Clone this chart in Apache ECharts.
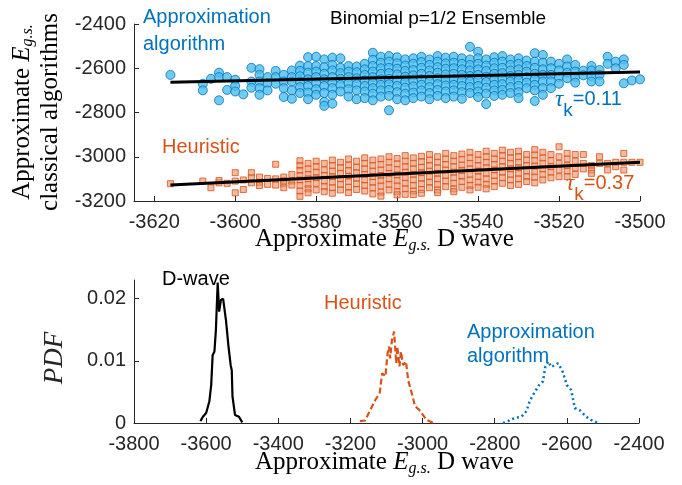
<!DOCTYPE html>
<html><head><meta charset="utf-8">
<script src="https://cdn.jsdelivr.net/npm/echarts@6/dist/echarts.min.js"></script>
<style>html,body{margin:0;padding:0;background:#fff}#c{width:682px;height:485px}</style>
</head><body><div id="c"></div>
<script>
// ---- Top panel: instance energies (D-wave x, classical y) ----
const dwaveE = [-3616,-3614,-3612,-3610,-3608,-3606,-3604,-3602,-3600,-3598,-3596,-3594,-3592,-3590,-3588,-3586,-3584,-3582,-3580,-3578,-3576,-3574,-3572,-3570,-3568,-3566,-3564,-3562,-3560,-3558,-3556,-3554,-3552,-3550,-3548,-3546,-3544,-3542,-3540,-3538,-3536,-3534,-3532,-3530,-3528,-3526,-3524,-3522,-3520,-3518,-3516,-3514,-3512,-3510,-3508,-3506,-3504,-3502,-3500];
const approxE = [
 [-2630],[],[],[],[-2670,-2700],[-2648],[-2620,-2640,-2745],[-2640,-2698],[-2652,-2680,-2705],[-2718],
 [-2598,-2660,-2688],[-2604,-2630,-2660,-2690,-2720],[-2640,-2668,-2700],[-2612,-2640,-2670],[-2630,-2660,-2690,-2730],
 [-2610,-2640,-2660,-2700,-2738],[-2588,-2612,-2636,-2660,-2685,-2712],[-2550,-2590,-2620,-2650,-2680,-2710,-2740],
 [-2548,-2590,-2615,-2640,-2668,-2695,-2720],[-2560,-2595,-2625,-2650,-2680,-2712,-2752,-2770],
 [-2552,-2585,-2610,-2640,-2665,-2690,-2720,-2760],[-2555,-2598,-2622,-2648,-2675,-2705],
 [-2590,-2615,-2640,-2668,-2695,-2728],[-2592,-2618,-2645,-2672,-2700,-2740],
 [-2580,-2605,-2630,-2655,-2680,-2705,-2735],[-2530,-2562,-2590,-2615,-2640,-2665,-2690,-2715,-2745],
 [-2548,-2575,-2600,-2625,-2650,-2675,-2700,-2728],[-2545,-2570,-2598,-2622,-2648,-2672,-2698,-2725,-2790],
 [-2550,-2578,-2602,-2628,-2655,-2680,-2708,-2740],[-2560,-2588,-2612,-2638,-2662,-2688,-2715,-2745],
 [-2555,-2580,-2608,-2632,-2658,-2682,-2710,-2735],[-2548,-2572,-2598,-2625,-2650,-2675,-2700,-2728],
 [-2560,-2585,-2610,-2635,-2660,-2685,-2712,-2740],[-2545,-2570,-2595,-2620,-2645,-2672,-2698,-2725],
 [-2552,-2578,-2602,-2628,-2652,-2678,-2705,-2735],[-2548,-2575,-2600,-2625,-2650,-2675,-2700,-2728],
 [-2555,-2580,-2605,-2630,-2655,-2680,-2708,-2738],[-2503,-2560,-2585,-2610,-2635,-2660,-2685,-2712],
 [-2525,-2555,-2580,-2605,-2630,-2655,-2680,-2705,-2730],[-2560,-2588,-2612,-2638,-2662,-2688,-2715,-2762],
 [-2550,-2575,-2600,-2625,-2650,-2675,-2700,-2725],[-2545,-2570,-2598,-2622,-2648,-2672,-2698,-2720],
 [-2560,-2585,-2610,-2635,-2660,-2685,-2712],[-2555,-2580,-2605,-2630,-2655,-2680,-2708,-2735],
 [-2565,-2590,-2615,-2640,-2665,-2690],[-2532,-2570,-2598,-2625,-2650,-2675,-2700,-2748],
 [-2540,-2575,-2605,-2630,-2660,-2690,-2720],[-2570,-2600,-2630,-2660,-2690],[-2580,-2610,-2640,-2670],
 [-2560,-2592,-2620,-2645],[-2585,-2615,-2640,-2665],[-2611,-2632],[-2590,-2610,-2635,-2660],
 [-2608,-2630,-2660],[-2548,-2580],[-2570,-2600],[-2560,-2585,-2668],[-2655],[-2650]
];
const heurE = [
 [-3122],[],[],[],[-3110],[-3140],[-3118,-3108],[-3120],[-3072,-3110,-3163],[-3105,-3148],
 [-3072,-3095,-3118],[-3092,-3115,-3130],[-3098,-3125],[-3034,-3100,-3128],[-3092,-3108,-3122,-3140],
 [-3080,-3110,-3128],[-3018,-3040,-3062,-3085,-3105,-3130,-3155,-3179],[-3030,-3055,-3080,-3100,-3125,-3145,-3163],
 [-3020,-3045,-3070,-3095,-3120,-3150],[-3030,-3060,-3085,-3110,-3135,-3158],
 [-3015,-3040,-3065,-3090,-3115,-3140,-3165],[-3025,-3050,-3075,-3100,-3125,-3150],
 [-3010,-3038,-3062,-3088,-3112,-3138,-3162],[-3020,-3048,-3072,-3098,-3122,-3148],
 [-3005,-3030,-3055,-3080,-3105,-3130,-3155],[-3015,-3040,-3065,-3090,-3115,-3140,-3168],
 [-3010,-3035,-3060,-3085,-3108,-3132,-3160,-3178],[-3000,-3025,-3050,-3075,-3100,-3125,-3150],
 [-3008,-3032,-3058,-3082,-3108,-3132,-3158,-3172],[-2995,-3020,-3045,-3070,-3095,-3120,-3145,-3170],
 [-3005,-3030,-3055,-3080,-3105,-3130,-3155,-3171],[-2998,-3022,-3048,-3072,-3098,-3122,-3148,-3165],
 [-2990,-3015,-3040,-3065,-3090,-3115,-3140],[-3000,-3025,-3050,-3075,-3100,-3125,-3150,-3162],
 [-2985,-3010,-3035,-3060,-3085,-3110,-3135],[-2995,-3020,-3045,-3070,-3095,-3120,-3145,-3158],
 [-2988,-3012,-3038,-3062,-3088,-3112,-3138],[-2980,-3005,-3030,-3055,-3080,-3105,-3130,-3150],
 [-2990,-3015,-3040,-3065,-3090,-3115,-3138],[-2975,-3000,-3025,-3050,-3075,-3100,-3125,-3145],
 [-2985,-3010,-3035,-3060,-3085,-3110,-3135],[-2970,-2995,-3020,-3045,-3070,-3095,-3120],
 [-2980,-3005,-3030,-3055,-3080,-3105,-3130],[-2975,-3000,-3025,-3050,-3075,-3100,-3125],
 [-2990,-3015,-3040,-3065,-3090,-3112],[-2968,-2992,-3018,-3042,-3068,-3092,-3118],
 [-2980,-3005,-3030,-3055,-3080,-3105],[-2990,-3018,-3045,-3070,-3095],[-2955,-3000,-3030,-3060,-3090],
 [-2985,-3010,-3040,-3065,-3090],[-2990,-3020,-3050,-3080],[-2990,-3030,-3055],[-3040,-3060,-3075],
 [-3000,-3030],[-3030,-3060],[-3025,-3045],[-2985,-3025,-3060],[-3025],[-3025]
];
// least-squares trend lines
const approxFit = [[-3616,-2663],[-3500,-2617]];
const heurFit = [[-3616,-3128],[-3500,-3025]];
const topXTicks = [-3620,-3600,-3580,-3560,-3540,-3520,-3500];

// ---- Bottom panel: PDFs ----
const pdfDwaveX = [-3616,-3609,-3600,-3591,-3586,-3582,-3577,-3573,-3568,-3564,-3559,-3553,-3545,-3538,-3532,-3529,-3527,-3520,-3509,-3500];
const pdfDwaveY = [0.0003,0.0010,0.0016,0.0035,0.0061,0.0109,0.0115,0.0149,0.0226,0.0179,0.0198,0.0200,0.0165,0.0123,0.0093,0.0085,0.0043,0.0013,0.0010,0.0001];
const pdfHeurX = [-3174,-3159,-3145,-3131,-3119,-3112,-3103,-3097,-3093,-3090,-3085,-3079,-3073,-3070,-3064,-3060,-3054,-3046,-3040,-3030,-3021,-3009,-2989,-2970];
const pdfHeurY = [0.0003,0.0004,0.0021,0.0037,0.0048,0.0080,0.0075,0.0112,0.0123,0.0104,0.0133,0.0147,0.0096,0.0123,0.0091,0.0115,0.0093,0.0099,0.0069,0.0048,0.0027,0.0021,0.0005,0.0000];
const pdfApproxX = [-2777,-2763,-2745,-2726,-2712,-2703,-2694,-2677,-2666,-2660,-2652,-2643,-2634,-2625,-2613,-2600,-2588,-2578,-2565,-2546,-2533,-2514];
const pdfApproxY = [0.0000,0.0003,0.0008,0.0010,0.0019,0.0035,0.0045,0.0061,0.0067,0.0090,0.0099,0.0090,0.0093,0.0096,0.0085,0.0061,0.0053,0.0024,0.0021,0.0010,0.0005,0.0000];
const botYTicks = [0,0.01,0.02];

const BLUE='#0072BD', ORANGE='#D95319', AX='#262626';
const approxPts=[], heurPts=[];
dwaveE.forEach((x,i)=>{ approxE[i].forEach(y=>approxPts.push([x,y])); heurE[i].forEach(y=>heurPts.push([x,y])); });
const zip=(a,b)=>a.map((v,i)=>[v,b[i]]);

const SANS='"Liberation Sans", Arial, sans-serif', SERIF='"Liberation Serif", "DejaVu Serif", serif';
const axLine={show:true,lineStyle:{color:AX,width:1}};
const axTick={show:true,inside:true,length:5,lineStyle:{color:AX}};
const plain=v=>String(v);
const axLab={color:AX,fontFamily:SANS,fontSize:20,formatter:plain};

const eRich={
  n:{fontFamily:SERIF,fontSize:25,color:AX,lineHeight:28},
  e:{fontFamily:SERIF,fontSize:25,fontStyle:'italic',color:AX,lineHeight:28},
  s:{fontFamily:SERIF,fontSize:16,fontStyle:'italic',color:AX,verticalAlign:'bottom',lineHeight:16}
};
function tau(color,x,y,val){
  return {type:'text',left:x,top:y,style:{
    text:'{t|τ}{k|k}{v|='+val+'}',
    rich:{t:{fontFamily:SERIF,fontStyle:'italic',fontSize:23,fill:color,color:color},
          k:{fontFamily:SANS,fontSize:19,fill:color,color:color,padding:[22,0,0,0]},
          v:{fontFamily:SANS,fontSize:20,fill:color,color:color}}}};
}
function txt(s,x,y,color,size){return {type:'text',left:x,top:y,style:{text:s,fill:color,font:size+'px '+SANS}};}

const chart=echarts.init(document.getElementById('c'));
chart.setOption({
  animation:false,
  backgroundColor:'#fff',
  grid:[{left:134,right:42,top:24,height:177},{left:134,right:43,top:280,height:143}],
  xAxis:[
    {gridIndex:0,type:'value',min:-3625,max:-3500,splitLine:{show:false},axisLine:axLine,
     axisTick:Object.assign({customValues:topXTicks},axTick),axisLabel:Object.assign({customValues:topXTicks,margin:11},axLab)},
    {gridIndex:1,type:'value',min:-3800,max:-2400,interval:200,splitLine:{show:false},axisLine:axLine,axisTick:axTick,
     axisLabel:Object.assign({margin:11},axLab)}
  ],
  yAxis:[
    {gridIndex:0,type:'value',min:-3200,max:-2400,interval:200,splitLine:{show:false},axisLine:axLine,axisTick:axTick,
     axisLabel:Object.assign({margin:8},axLab)},
    {gridIndex:1,type:'value',min:0,max:0.023,splitLine:{show:false},axisLine:axLine,
     axisTick:Object.assign({customValues:botYTicks},axTick),axisLabel:Object.assign({customValues:botYTicks,margin:8},axLab)}
  ],
  series:[
    {type:'scatter',xAxisIndex:0,yAxisIndex:0,data:approxPts,symbol:'circle',symbolSize:9,
     itemStyle:{color:'#4DBEEE',borderColor:BLUE,borderWidth:1}},
    {type:'scatter',xAxisIndex:0,yAxisIndex:0,data:heurPts,symbol:'rect',symbolSize:6,
     itemStyle:{color:'rgba(236,140,100,0.75)',borderColor:ORANGE,borderWidth:1}},
    {type:'line',xAxisIndex:0,yAxisIndex:0,data:approxFit,symbol:'none',lineStyle:{color:'#000',width:3}},
    {type:'line',xAxisIndex:0,yAxisIndex:0,data:heurFit,symbol:'none',lineStyle:{color:'#000',width:3}},
    {type:'line',xAxisIndex:1,yAxisIndex:1,data:zip(pdfDwaveX,pdfDwaveY),symbol:'none',lineStyle:{color:'#000',width:2.2}},
    {type:'line',xAxisIndex:1,yAxisIndex:1,data:zip(pdfHeurX,pdfHeurY),symbol:'none',lineStyle:{color:ORANGE,width:2.2,type:[6,3]}},
    {type:'line',xAxisIndex:1,yAxisIndex:1,data:zip(pdfApproxX,pdfApproxY),symbol:'none',lineStyle:{color:BLUE,width:2.5,type:[2,3]}}
  ],
  graphic:[
    txt('Approximation',143,7,BLUE,20),
    txt('algorithm',143,34,BLUE,20),
    txt('Binomial p=1/2 Ensemble',330,9,'#000',19),
    tau(BLUE,555,88,'0.11'),
    txt('Heuristic',162,137,ORANGE,20),
    tau(ORANGE,566,172,'0.37'),
    {type:'text',x:36,y:112,rotation:Math.PI/2,style:{text:'{n|Approximate }{e|E}{s|g.s.}\n{n|classical algorithms}',rich:eRich,align:'center',verticalAlign:'middle'}},
    {type:'text',left:255,top:227,style:{text:'{n|Approximate }{e|E}{s|g.s.}{n| D wave}',rich:eRich}},
    txt('D-wave',162,269,'#000',20),
    txt('Heuristic',324,293,ORANGE,20),
    txt('Approximation',467,322,BLUE,20),
    txt('algorithm',467,346,BLUE,20),
    {type:'text',x:55,y:358,rotation:Math.PI/2,style:{text:'PDF',font:'italic 27px '+SERIF,fill:AX,align:'center',verticalAlign:'middle'}},
    {type:'text',left:255,top:450,style:{text:'{n|Approximate }{e|E}{s|g.s.}{n| D wave}',rich:eRich}}
  ]
});
</script></body></html>
